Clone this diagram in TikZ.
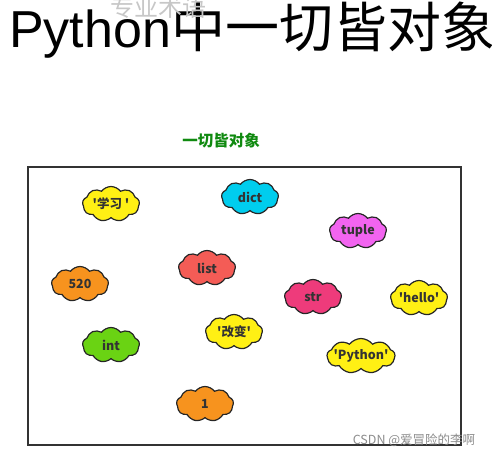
\documentclass[tikz,border=0pt]{standalone}
\usepackage{fontspec}
\usepackage{tikz}
\usetikzlibrary{shapes.symbols}
\newfontfamily\cjk{Noto Sans CJK SC}
\newfontfamily\lat{Liberation Sans}
\definecolor{cyellow}{HTML}{FFF014}
\definecolor{ccyan}{HTML}{00CDEE}
\definecolor{cviolet}{HTML}{F264F0}
\definecolor{corange}{HTML}{F7931E}
\definecolor{cred}{HTML}{F45C56}
\definecolor{cpink}{HTML}{EE3B7B}
\definecolor{cgreen}{HTML}{6AD313}
\definecolor{darkgreen}{HTML}{108A10}
\tikzset{obj/.style={cloud, cloud puffs=9, cloud puff arc=105, cloud ignores aspect,
  draw=black!85, line width=1.2pt, minimum width=57pt, minimum height=35pt,
  inner xsep=-5pt, inner ysep=1pt, text=black!80,
  font=\cjk\bfseries\fontsize{12.5}{13}\selectfont}}
\newcommand{\FS}[1]{\fontsize{#1}{#1}\selectfont}

\begin{document}
\begin{tikzpicture}[x=1pt,y=-1pt]

\useasboundingbox(0,0) rectangle (492,456);

\node[anchor=base west, inner sep=0pt, font=\cjk\FS{54}] (title) at (9,47)
{{\lat\FS{52}Python}中一切皆对象};
\node[text=black!22, font=\cjk\FS{24}] (sub) at (158,7) {专业术语};

\node[text=darkgreen, font=\cjk\bfseries\FS{15.5}] (head) at (221,141) {一切皆对象};

\draw[draw=black!80, line width=1.6pt](28,167) rectangle (461,445);

\node[obj, fill=cyellow] (xuexi) at (111,204) {'学习 '};
\node[obj, fill=ccyan] (dict) at (250,197) {dict};
\node[obj, fill=cviolet] (tuple) at (358,231) {tuple};
\node[obj, fill=corange] (n520) at (80,284) {520};
\node[obj, fill=cred] (list) at (207,268) {list};
\node[obj, fill=cpink] (str) at (313,297) {str};
\node[obj, fill=cyellow] (hello) at (419,298) {'hello'};
\node[obj, fill=cgreen] (int) at (111,345) {int};
\node[obj, fill=cyellow] (gaibian) at (234,332) {'改变'};
\node[obj, fill=cyellow, minimum width=68pt] (python) at (361,356) {'Python'};
\node[obj, fill=corange] (one) at (205,404) {1};

\node[text=black!45, font=\cjk\FS{12.5}] (mark) at (414,440) {CSDN @爱冒险的李啊};

\end{tikzpicture}
\end{document}
